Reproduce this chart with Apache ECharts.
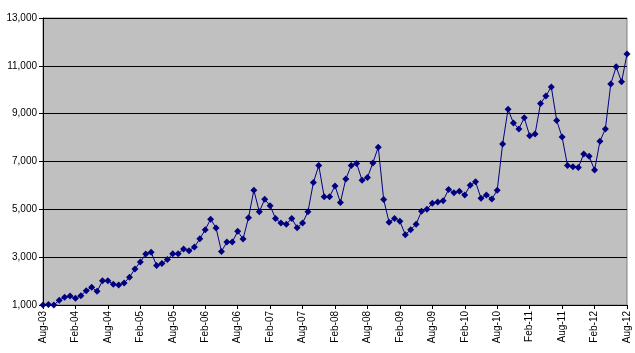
<!DOCTYPE html>
<html>
<head>
<meta charset="utf-8">
<script src="https://cdn.jsdelivr.net/npm/echarts@6/dist/echarts.min.js"></script>
<style>
  html, body { margin: 0; padding: 0; background: #fff; }
  #chart { width: 635px; height: 353px; }
</style>
</head>
<body>
<div id="chart"></div>
<script>
  // monthly values, Aug-03 .. Aug-12
  const values = [
    1000, 1020, 1000, 1200, 1320, 1380, 1280, 1390, 1600, 1740, 1570, 2010,
    2010, 1870, 1840, 1920, 2160, 2510, 2800, 3130, 3210, 2650, 2730, 2900,
    3140, 3140, 3340, 3270, 3420, 3770, 4150, 4590, 4220, 3240, 3630, 3630,
    4080, 3760, 4650, 5800, 4900, 5420, 5150, 4620, 4430, 4380, 4620, 4230,
    4430, 4900, 6120, 6830, 5530, 5530, 5980, 5290, 6270, 6830, 6920, 6220,
    6330, 6940, 7600, 5410, 4460, 4620, 4500, 3940, 4150, 4380, 4920, 5000,
    5250, 5310, 5360, 5830, 5690, 5760, 5600, 6010, 6150, 5460, 5600, 5430,
    5800, 7730, 9180, 8610, 8360, 8830, 8080, 8150, 9420, 9740, 10120, 8710,
    8020, 6830, 6780, 6750, 7310, 7220, 6640, 7850, 8360, 10240, 10960, 10330,
    11490
  ]
  const monthNames = ['Jan', 'Feb', 'Mar', 'Apr', 'May', 'Jun', 'Jul', 'Aug', 'Sep', 'Oct', 'Nov', 'Dec']
  const startYear = 2003, startMonth = 7
  const categories = values.map((v, i) => {
    const m = startMonth + i
    const y = startYear + Math.floor(m / 12)
    return monthNames[m % 12] + '-' + String(y % 100).padStart(2, '0')
  })
  const yMin = 1000, yMax = 13000, yStep = 2000

  const chart = echarts.init(document.getElementById('chart'), null, {renderer: 'canvas'})
  const font = 'Liberation Sans, Arial, sans-serif'
  chart.setOption({
    animation: false,
    backgroundColor: '#fff',
    grid: {
      left: 43, right: 8, top: 18, bottom: 48,
      show: true, backgroundColor: '#c0c0c0', borderColor: '#808080', borderWidth: 1,
    },
    xAxis: {
      type: 'category',
      data: categories,
      boundaryGap: false,
      axisLine: {lineStyle: {color: '#000', width: 1}},
      axisTick: {show: true, interval: 5, length: 4, lineStyle: {color: '#000'}},
      axisLabel: {interval: 5, rotate: 90, color: '#000', fontSize: 10, fontFamily: font, margin: 6},
      splitLine: {show: false},
    },
    yAxis: {
      type: 'value',
      min: yMin, max: yMax, interval: yStep,
      axisLine: {show: true, lineStyle: {color: '#000', width: 1}},
      axisTick: {show: true, length: 4, lineStyle: {color: '#000'}},
      axisLabel: {
        color: '#000', fontSize: 10, fontFamily: font, margin: 6,
        formatter: v => v.toLocaleString('en-US'),
      },
      splitLine: {show: true, lineStyle: {color: '#000', width: 1}},
    },
    series: [{
      type: 'line',
      data: values,
      symbol: 'diamond',
      symbolSize: 7,
      showAllSymbol: true,
      lineStyle: {color: '#000080', width: 1},
      itemStyle: {color: '#000080'},
    }],
  })
</script>
</body>
</html>
